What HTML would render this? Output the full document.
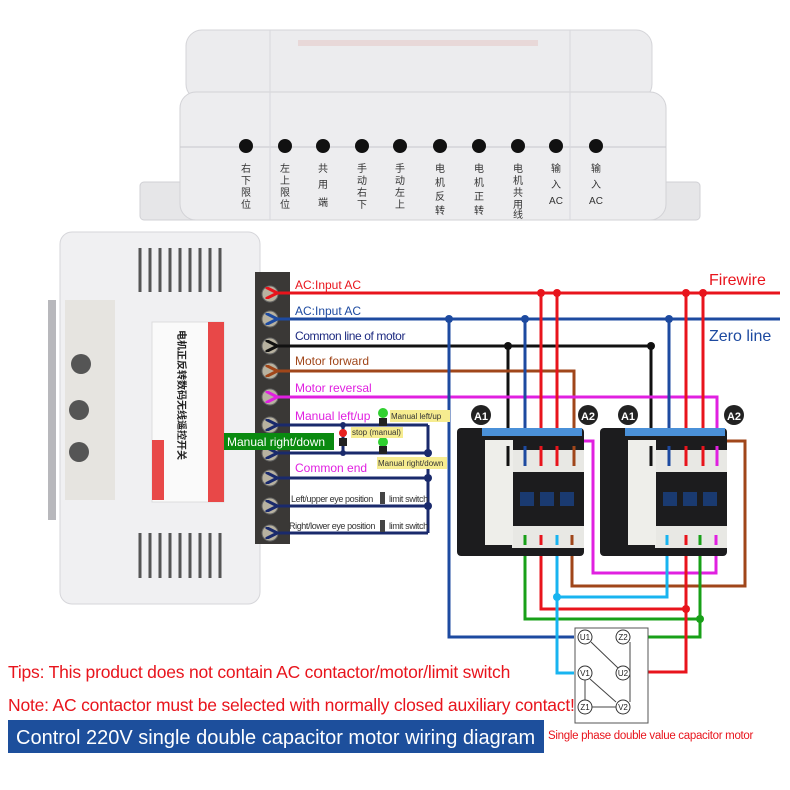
<!DOCTYPE html>
<html><head><meta charset="utf-8"><style>
html,body{margin:0;padding:0;background:#fff}
svg{display:block}
text{font-family:"Liberation Sans","Noto Sans CJK SC",sans-serif}
</style></head><body>
<svg width="790" height="790" viewBox="0 0 790 790" xmlns="http://www.w3.org/2000/svg">
<defs>
<marker id="ar" viewBox="0 0 10 10" refX="2" refY="5" markerWidth="4" markerHeight="4" orient="auto-start-reverse"><path d="M10,0 L0,5 L10,10" fill="none" stroke="context-stroke" stroke-width="2.5"/></marker>
</defs>
<!-- top device -->
<rect x="140" y="182" width="560" height="38" rx="4" fill="#e6e6e8" stroke="#d0d0d4"/>
<rect x="186" y="30" width="466" height="70" rx="16" fill="#ececee" stroke="#d4d4d8"/>
<rect x="180" y="92" width="486" height="128" rx="16" fill="#ededef" stroke="#d2d2d6"/>
<line x1="180" y1="147" x2="666" y2="147" stroke="#c8c8cc"/>
<line x1="270" y1="30" x2="270" y2="220" stroke="#d8d8dc"/>
<line x1="570" y1="30" x2="570" y2="220" stroke="#d8d8dc"/>
<rect x="298" y="40" width="240" height="6" fill="#e8d8d8"/>
<g fill="#111">
<circle cx="246" cy="146" r="7"/><circle cx="285" cy="146" r="7"/><circle cx="323" cy="146" r="7"/><circle cx="362" cy="146" r="7"/><circle cx="400" cy="146" r="7"/><circle cx="440" cy="146" r="7"/><circle cx="479" cy="146" r="7"/><circle cx="518" cy="146" r="7"/><circle cx="556" cy="146" r="7"/><circle cx="596" cy="146" r="7"/>
</g>
<g font-size="10" fill="#333" text-anchor="middle">
<text x="246" y="172">右</text><text x="246" y="184">下</text><text x="246" y="196">限</text><text x="246" y="208">位</text>
<text x="285" y="172">左</text><text x="285" y="184">上</text><text x="285" y="196">限</text><text x="285" y="208">位</text>
<text x="323" y="172">共</text><text x="323" y="188">用</text><text x="323" y="206">端</text>
<text x="362" y="172">手</text><text x="362" y="184">动</text><text x="362" y="196">右</text><text x="362" y="208">下</text>
<text x="400" y="172">手</text><text x="400" y="184">动</text><text x="400" y="196">左</text><text x="400" y="208">上</text>
<text x="440" y="172">电</text><text x="440" y="186">机</text><text x="440" y="200">反</text><text x="440" y="214">转</text>
<text x="479" y="172">电</text><text x="479" y="186">机</text><text x="479" y="200">正</text><text x="479" y="214">转</text>
<text x="518" y="172">电</text><text x="518" y="184">机</text><text x="518" y="196">共</text><text x="518" y="208">用</text><text x="518" y="218">线</text>
<text x="556" y="172">输</text><text x="556" y="188">入</text><text x="556" y="204">AC</text>
<text x="596" y="172">输</text><text x="596" y="188">入</text><text x="596" y="204">AC</text>
</g>
<!-- left device -->
<rect x="48" y="300" width="8" height="220" fill="#b8b8bc"/>
<rect x="60" y="232" width="200" height="372" rx="12" fill="#f0f0f2" stroke="#d6d6da"/>
<rect x="65" y="300" width="50" height="200" fill="#e6e4e0"/>
<g stroke="#555" stroke-width="3">
<line x1="140" y1="248" x2="140" y2="292"/><line x1="150" y1="248" x2="150" y2="292"/><line x1="160" y1="248" x2="160" y2="292"/><line x1="170" y1="248" x2="170" y2="292"/><line x1="180" y1="248" x2="180" y2="292"/><line x1="190" y1="248" x2="190" y2="292"/><line x1="200" y1="248" x2="200" y2="292"/><line x1="210" y1="248" x2="210" y2="292"/><line x1="220" y1="248" x2="220" y2="292"/>
<line x1="140" y1="533" x2="140" y2="578"/><line x1="150" y1="533" x2="150" y2="578"/><line x1="160" y1="533" x2="160" y2="578"/><line x1="170" y1="533" x2="170" y2="578"/><line x1="180" y1="533" x2="180" y2="578"/><line x1="190" y1="533" x2="190" y2="578"/><line x1="200" y1="533" x2="200" y2="578"/><line x1="210" y1="533" x2="210" y2="578"/><line x1="220" y1="533" x2="220" y2="578"/>
</g>
<circle cx="81" cy="364" r="10" fill="#555"/><circle cx="79" cy="410" r="10" fill="#555"/><circle cx="79" cy="452" r="10" fill="#555"/>
<rect x="152" y="322" width="72" height="180" fill="#fafafa" stroke="#ddd"/>
<rect x="208" y="322" width="16" height="180" fill="#e84848"/>
<rect x="152" y="440" width="12" height="60" fill="#e84848"/>
<text transform="translate(178,330) rotate(90)" font-size="10" font-weight="bold" fill="#222">电机正反转数码无线遥控开关</text>
<!-- terminal strip -->
<rect x="255" y="272" width="35" height="272" fill="#3a3836"/>
<g fill="#b8b2a0" stroke="#666">
<circle cx="270" cy="294" r="8"/><circle cx="270" cy="319" r="8"/><circle cx="270" cy="346" r="8"/><circle cx="270" cy="371" r="8"/><circle cx="270" cy="397" r="8"/><circle cx="270" cy="425" r="8"/><circle cx="270" cy="453" r="8"/><circle cx="270" cy="478" r="8"/><circle cx="270" cy="506" r="8"/><circle cx="270" cy="533" r="8"/>
</g>
<!-- main wires -->
<g fill="none" stroke-width="3">
<path d="M780,293 H275" stroke="#e8141c" marker-end="url(#ar)"/>
<path d="M780,319 H275" stroke="#1d4aa0" marker-end="url(#ar)"/>
<path d="M651,462 V346 H275" stroke="#111" marker-end="url(#ar)"/>
<path d="M508,346 V462" stroke="#111"/>
<path d="M574,462 V371 H275" stroke="#a0461a" marker-end="url(#ar)"/>
<path d="M717,462 V397 H275" stroke="#e020e0" marker-end="url(#ar)"/>
<path d="M525,319 V462" stroke="#1d4aa0"/>
<path d="M669,319 V462" stroke="#1d4aa0"/>
<path d="M449,319 V637 H574" stroke="#1d4aa0"/>
<path d="M541,293 V462" stroke="#e8141c"/><path d="M557,293 V462" stroke="#e8141c"/>
<path d="M686,293 V462" stroke="#e8141c"/><path d="M703,293 V462" stroke="#e8141c"/>
<path d="M575,441 H593 V573 H716 V540" stroke="#e020e0"/>
<path d="M718,441 H745 V586 H572 V540" stroke="#a0461a"/>
<path d="M525,540 V619 H700 V540" stroke="#18a018"/>
<path d="M700,619 V637 H633" stroke="#18a018"/>
<path d="M541,540 V609 H686 V540" stroke="#e8141c"/>
<path d="M686,609 V672 H633" stroke="#e8141c"/>
<path d="M557,540 V597 H667 V540" stroke="#18b4f0"/>
<path d="M557,597 V673 H574" stroke="#18b4f0"/>
</g>
<g fill="#e8141c"><circle cx="541" cy="293" r="4"/><circle cx="557" cy="293" r="4"/><circle cx="686" cy="293" r="4"/><circle cx="703" cy="293" r="4"/><circle cx="686" cy="609" r="4"/></g>
<g fill="#1d4aa0"><circle cx="449" cy="319" r="4"/><circle cx="525" cy="319" r="4"/><circle cx="669" cy="319" r="4"/></g>
<circle cx="508" cy="346" r="4" fill="#111"/><circle cx="651" cy="346" r="4" fill="#111"/>
<circle cx="557" cy="597" r="4" fill="#18b4f0"/><circle cx="700" cy="619" r="4" fill="#18a018"/>
<!-- control wires -->
<g fill="none" stroke="#1a2a6c" stroke-width="3">
<path d="M428,425 H275" marker-end="url(#ar)"/>
<path d="M428,453 H275" marker-end="url(#ar)"/>
<path d="M428,478 H275" marker-end="url(#ar)"/>
<path d="M428,506 H275" marker-end="url(#ar)"/>
<path d="M428,533 H275" marker-end="url(#ar)"/>
<path d="M428,425 V533"/><path d="M343,425 V453"/>
</g>
<g fill="#1a2a6c"><circle cx="428" cy="453" r="4"/><circle cx="428" cy="478" r="4"/><circle cx="428" cy="506" r="4"/><circle cx="343" cy="425" r="3"/><circle cx="343" cy="453" r="3"/></g>
<circle cx="383" cy="413" r="5" fill="#30d030"/><rect x="379" y="418" width="8" height="8" fill="#222"/>
<circle cx="343" cy="433" r="4" fill="#e82020"/><rect x="339" y="438" width="8" height="8" fill="#222"/>
<circle cx="383" cy="442" r="5" fill="#30d030"/><rect x="379" y="446" width="8" height="8" fill="#222"/>
<rect x="380" y="492" width="5" height="12" fill="#444"/><rect x="380" y="520" width="5" height="12" fill="#444"/>
<!-- labels -->
<g font-size="12">
<text x="295" y="289" fill="#e8141c">AC:Input AC</text>
<text x="295" y="315" fill="#1d4aa0">AC:Input AC</text>
<text x="295" y="340" fill="#1d2a80" letter-spacing="-0.4">Common line of motor</text>
<text x="295" y="365" fill="#a0461a">Motor forward</text>
<text x="295" y="392" fill="#e020e0">Motor reversal</text>
<text x="295" y="420" fill="#e020e0">Manual left/up</text>
<text x="295" y="472" fill="#e020e0">Common end</text>
</g>
<g font-size="9" fill="#333" letter-spacing="-0.4">
<text x="291" y="502">Left/upper eye position</text>
<text x="389" y="502">limit switch</text>
<text x="289" y="529">Right/lower eye position</text>
<text x="389" y="529">limit switch</text>
</g>
<rect x="390" y="410" width="60" height="12" fill="#f6ec90"/><text x="391" y="419" font-size="8" fill="#333">Manual left/up</text>
<rect x="351" y="427" width="52" height="11" fill="#f6ec90"/><text x="352" y="435" font-size="8" fill="#333">stop (manual)</text>
<rect x="377" y="457" width="70" height="12" fill="#f6ec90"/><text x="378" y="466" font-size="8" fill="#333">Manual right/down</text>
<rect x="224" y="433" width="110" height="17" fill="#0a8a10"/><text x="227" y="446" font-size="12" fill="#fff">Manual right/down</text>
<text x="709" y="285" font-size="16" fill="#e8141c">Firewire</text>
<text x="709" y="341" font-size="16" fill="#1d4aa0">Zero line</text>
<!-- contactors -->
<g>
<rect x="457" y="428" width="127" height="128" rx="4" fill="#1c1c1e"/>
<rect x="482" y="428" width="100" height="8" fill="#4a90d8"/>
<rect x="512" y="450" width="72" height="22" fill="#e8e8e4"/>
<rect x="512" y="526" width="72" height="22" fill="#e8e8e4"/>
<rect x="485" y="440" width="28" height="105" fill="#eeeeea"/>
<rect x="520" y="492" width="14" height="14" fill="#1a3a70"/><rect x="540" y="492" width="14" height="14" fill="#1a3a70"/><rect x="560" y="492" width="14" height="14" fill="#1a3a70"/>
<rect x="600" y="428" width="127" height="128" rx="4" fill="#1c1c1e"/>
<rect x="625" y="428" width="100" height="8" fill="#4a90d8"/>
<rect x="655" y="450" width="72" height="22" fill="#e8e8e4"/>
<rect x="655" y="526" width="72" height="22" fill="#e8e8e4"/>
<rect x="628" y="440" width="28" height="105" fill="#eeeeea"/>
<rect x="663" y="492" width="14" height="14" fill="#1a3a70"/><rect x="683" y="492" width="14" height="14" fill="#1a3a70"/><rect x="703" y="492" width="14" height="14" fill="#1a3a70"/>
</g>
<g stroke-width="3" fill="none">
<path d="M508,446 V466" stroke="#111"/><path d="M525,446 V466" stroke="#1d4aa0"/><path d="M541,446 V466" stroke="#e8141c"/><path d="M557,446 V466" stroke="#e8141c"/><path d="M574,446 V466" stroke="#a0461a"/>
<path d="M651,446 V466" stroke="#111"/><path d="M669,446 V466" stroke="#1d4aa0"/><path d="M686,446 V466" stroke="#e8141c"/><path d="M703,446 V466" stroke="#e8141c"/><path d="M717,446 V466" stroke="#e020e0"/>
<path d="M525,535 V545" stroke="#18a018"/><path d="M541,535 V545" stroke="#e8141c"/><path d="M557,535 V545" stroke="#18b4f0"/><path d="M572,535 V545" stroke="#a0461a"/>
<path d="M667,535 V545" stroke="#18b4f0"/><path d="M686,535 V545" stroke="#e8141c"/><path d="M700,535 V545" stroke="#18a018"/><path d="M716,535 V545" stroke="#e020e0"/>
</g>
<g><circle cx="481" cy="415" r="10" fill="#222"/><text x="481" y="420" font-size="11" fill="#fff" text-anchor="middle" font-weight="bold">A1</text>
<circle cx="588" cy="415" r="10" fill="#222"/><text x="588" y="420" font-size="11" fill="#fff" text-anchor="middle" font-weight="bold">A2</text>
<circle cx="628" cy="415" r="10" fill="#222"/><text x="628" y="420" font-size="11" fill="#fff" text-anchor="middle" font-weight="bold">A1</text>
<circle cx="734" cy="415" r="10" fill="#222"/><text x="734" y="420" font-size="11" fill="#fff" text-anchor="middle" font-weight="bold">A2</text></g>
<!-- motor -->
<rect x="575" y="628" width="73" height="95" fill="#fff" stroke="#555"/>
<g fill="#fff" stroke="#333" stroke-width="1"><circle cx="585" cy="637" r="7"/><circle cx="623" cy="637" r="7"/><circle cx="585" cy="673" r="7"/><circle cx="623" cy="673" r="7"/><circle cx="585" cy="707" r="7"/><circle cx="623" cy="707" r="7"/></g>
<path d="M591,642 L618,668 M630,642 V702 M590,679 L616,702 M585,680 V700 M592,707 H616" stroke="#444" fill="none"/>
<g font-size="8" text-anchor="middle" fill="#222"><text x="585" y="640">U1</text><text x="623" y="640">Z2</text><text x="585" y="676">V1</text><text x="623" y="676">U2</text><text x="585" y="710">Z1</text><text x="623" y="710">V2</text></g>
<!-- bottom text -->
<text x="8" y="678" font-size="17.5" fill="#e8141c" letter-spacing="-0.2">Tips: This product does not contain AC contactor/motor/limit switch</text>
<text x="8" y="711" font-size="17.5" fill="#e8141c" letter-spacing="-0.2">Note: AC contactor must be selected with normally closed auxiliary contact!</text>
<rect x="8" y="720" width="536" height="33" fill="#1d4f9c"/>
<text x="16" y="744" font-size="20" fill="#fff">Control 220V single double capacitor motor wiring diagram</text>
<text x="548" y="739" font-size="11.5" fill="#e8141c" letter-spacing="-0.3">Single phase double value capacitor motor</text>
</svg>
</body></html>
